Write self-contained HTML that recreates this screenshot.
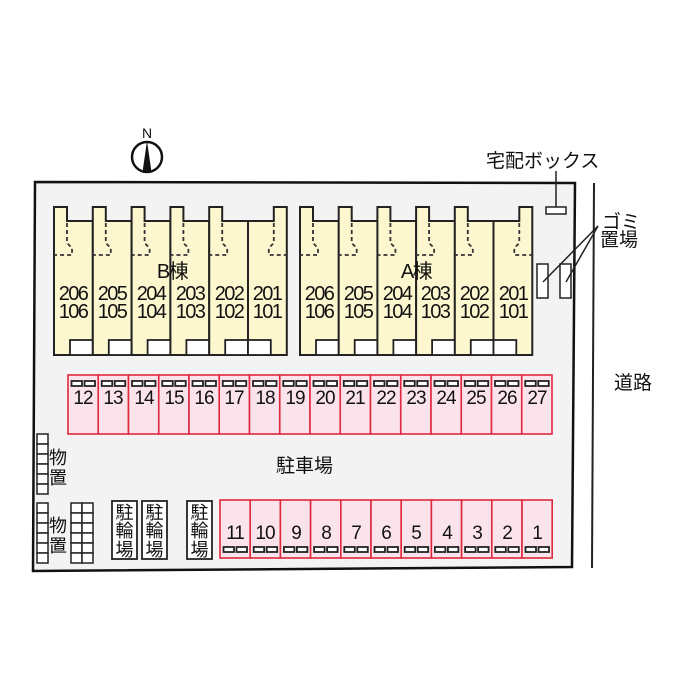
<!DOCTYPE html>
<html><head><meta charset="utf-8"><style>
html,body{margin:0;padding:0;background:#fff;}
svg{display:block;}
text{font-family:"Liberation Sans","Noto Sans CJK JP",sans-serif;fill:#111;}
</style></head><body>
<svg width="700" height="700" viewBox="0 0 700 700" xmlns="http://www.w3.org/2000/svg">
<defs>
<g id="u">
<polygon points="0,0 13,0 13,14 38.8,14 38.8,148 0,148" fill="#fdf7cf" stroke="#222" stroke-width="2"/>
<path d="M13,16 V36 L18,41 V48 H0" fill="none" stroke="#333" stroke-width="1.8" stroke-dasharray="4,3"/>
<rect x="16" y="133" width="22.8" height="15" fill="#fff" stroke="#222" stroke-width="1.8"/>
</g>
<g id="ur">
<polygon points="0,14 25.8,14 25.8,0 38.8,0 38.8,148 0,148" fill="#fdf7cf" stroke="#222" stroke-width="2"/>
<path d="M25.8,16 V36 L20.8,41 V48 H38.8" fill="none" stroke="#333" stroke-width="1.8" stroke-dasharray="4,3"/>
<rect x="0" y="133" width="22.8" height="15" fill="#fff" stroke="#222" stroke-width="1.8"/>
</g>
<g id="pt">
<rect x="0" y="0" width="30.25" height="59" fill="#fbe3ec" stroke="#e0283c" stroke-width="1.6"/>
<rect x="3.5" y="6" width="10.5" height="5" fill="#fff" stroke="#222" stroke-width="1.8"/>
<rect x="16.5" y="6" width="10.5" height="5" fill="#fff" stroke="#222" stroke-width="1.8"/>
</g>
<g id="pb">
<rect x="0" y="0" width="30.2" height="58" fill="#fbe3ec" stroke="#e0283c" stroke-width="1.6"/>
<rect x="3.5" y="47" width="10.5" height="5" fill="#fff" stroke="#222" stroke-width="1.8"/>
<rect x="16.5" y="47" width="10.5" height="5" fill="#fff" stroke="#222" stroke-width="1.8"/>
</g>
<g id="cell"><rect width="11" height="10" fill="#fff" stroke="#222" stroke-width="1.5"/></g>
</defs>

<polygon points="35,182 575,183 572,567 33,571" fill="#f3f3f4" stroke="#111" stroke-width="2.5"/>
<line x1="594" y1="183" x2="592" y2="568" stroke="#222" stroke-width="2"/>

<circle cx="147" cy="157" r="15" fill="#fff" stroke="#111" stroke-width="2.5"/>
<polygon points="147,141 142.5,172 151.5,172" fill="#111"/>
<text x="147" y="138" font-size="14" text-anchor="middle">N</text>

<use href="#u" x="54" y="207"/><use href="#u" x="92.8" y="207"/><use href="#u" x="131.6" y="207"/>
<use href="#u" x="170.4" y="207"/><use href="#u" x="209.2" y="207"/><use href="#ur" x="248" y="207"/>
<use href="#u" x="300" y="207"/><use href="#u" x="338.7" y="207"/><use href="#u" x="377.4" y="207"/>
<use href="#u" x="416.1" y="207"/><use href="#u" x="454.8" y="207"/><use href="#ur" x="493.5" y="207"/>

<g font-size="20" text-anchor="middle" letter-spacing="-1.6">
<text x="172" y="278">B棟</text>
<text x="416" y="278">A棟</text>
<text x="73" y="300">206</text><text x="112" y="300">205</text><text x="151" y="300">204</text><text x="190" y="300">203</text><text x="229" y="300">202</text><text x="267" y="300">201</text>
<text x="73" y="318">106</text><text x="112" y="318">105</text><text x="151" y="318">104</text><text x="190" y="318">103</text><text x="229" y="318">102</text><text x="267" y="318">101</text>
<text x="319" y="300">206</text><text x="358" y="300">205</text><text x="397" y="300">204</text><text x="435" y="300">203</text><text x="474" y="300">202</text><text x="513" y="300">201</text>
<text x="319" y="318">106</text><text x="358" y="318">105</text><text x="397" y="318">104</text><text x="435" y="318">103</text><text x="474" y="318">102</text><text x="513" y="318">101</text>
</g>

<use href="#pt" x="68" y="375"/><use href="#pt" x="98.25" y="375"/><use href="#pt" x="128.5" y="375"/><use href="#pt" x="158.75" y="375"/>
<use href="#pt" x="189" y="375"/><use href="#pt" x="219.25" y="375"/><use href="#pt" x="249.5" y="375"/><use href="#pt" x="279.75" y="375"/>
<use href="#pt" x="310" y="375"/><use href="#pt" x="340.25" y="375"/><use href="#pt" x="370.5" y="375"/><use href="#pt" x="400.75" y="375"/>
<use href="#pt" x="431" y="375"/><use href="#pt" x="461.25" y="375"/><use href="#pt" x="491.5" y="375"/><use href="#pt" x="521.75" y="375"/>
<g font-size="19" text-anchor="middle" letter-spacing="-1">
<text x="83" y="404">12</text><text x="113" y="404">13</text><text x="144" y="404">14</text><text x="174" y="404">15</text>
<text x="204" y="404">16</text><text x="234" y="404">17</text><text x="265" y="404">18</text><text x="295" y="404">19</text>
<text x="325" y="404">20</text><text x="355" y="404">21</text><text x="386" y="404">22</text><text x="416" y="404">23</text>
<text x="446" y="404">24</text><text x="476" y="404">25</text><text x="507" y="404">26</text><text x="537" y="404">27</text>
</g>

<use href="#pb" x="220" y="500"/><use href="#pb" x="250.2" y="500"/><use href="#pb" x="280.4" y="500"/><use href="#pb" x="310.6" y="500"/>
<use href="#pb" x="340.8" y="500"/><use href="#pb" x="371" y="500"/><use href="#pb" x="401.2" y="500"/><use href="#pb" x="431.4" y="500"/>
<use href="#pb" x="461.6" y="500"/><use href="#pb" x="491.8" y="500"/><use href="#pb" x="522" y="500"/>
<g font-size="19" text-anchor="middle" letter-spacing="-1">
<text x="235" y="539">11</text><text x="265" y="539">10</text><text x="296" y="539">9</text><text x="326" y="539">8</text>
<text x="356" y="539">7</text><text x="386" y="539">6</text><text x="416" y="539">5</text><text x="447" y="539">4</text>
<text x="477" y="539">3</text><text x="507" y="539">2</text><text x="537" y="539">1</text>
</g>

<text x="276" y="472" font-size="19">駐車場</text>

<use href="#cell" x="37" y="434"/><use href="#cell" x="37" y="444"/><use href="#cell" x="37" y="454"/><use href="#cell" x="37" y="464"/><use href="#cell" x="37" y="474"/><use href="#cell" x="37" y="484"/>
<use href="#cell" x="37" y="503"/><use href="#cell" x="37" y="513"/><use href="#cell" x="37" y="523"/><use href="#cell" x="37" y="533"/><use href="#cell" x="37" y="543"/><use href="#cell" x="37" y="553"/>
<use href="#cell" x="71" y="503"/><use href="#cell" x="71" y="513"/><use href="#cell" x="71" y="523"/><use href="#cell" x="71" y="533"/><use href="#cell" x="71" y="543"/><use href="#cell" x="71" y="553"/>
<use href="#cell" x="82" y="503"/><use href="#cell" x="82" y="513"/><use href="#cell" x="82" y="523"/><use href="#cell" x="82" y="533"/><use href="#cell" x="82" y="543"/><use href="#cell" x="82" y="553"/>
<g font-size="18"><text x="49" y="464">物</text><text x="49" y="484">置</text><text x="49" y="532">物</text><text x="49" y="552">置</text></g>

<g fill="#fff" stroke="#222" stroke-width="1.8">
<rect x="112" y="501" width="25" height="58"/><rect x="142" y="501" width="25" height="58"/><rect x="187" y="501" width="25" height="58"/>
</g>
<g font-size="18" text-anchor="middle">
<text x="124.5" y="519">駐</text><text x="124.5" y="537">輪</text><text x="124.5" y="556">場</text>
<text x="154.5" y="519">駐</text><text x="154.5" y="537">輪</text><text x="154.5" y="556">場</text>
<text x="199.5" y="519">駐</text><text x="199.5" y="537">輪</text><text x="199.5" y="556">場</text>
</g>

<text x="486" y="167" font-size="19">宅配ボックス</text>
<line x1="556" y1="171" x2="556" y2="207" stroke="#222" stroke-width="1.5"/>
<rect x="546" y="207" width="20" height="7" fill="#fff" stroke="#222" stroke-width="1.5"/>
<rect x="537" y="264" width="11" height="34" fill="#fff" stroke="#222" stroke-width="1.5"/>
<rect x="560" y="264" width="11" height="34" fill="#fff" stroke="#222" stroke-width="1.5"/>
<line x1="543" y1="282" x2="598" y2="226" stroke="#222" stroke-width="1.5"/>
<line x1="566" y1="282" x2="598" y2="226" stroke="#222" stroke-width="1.5"/>
<text x="602" y="228" font-size="19">ゴミ</text>
<text x="600" y="246" font-size="19">置場</text>

<text x="614" y="389" font-size="19">道路</text>
</svg>
</body></html>
